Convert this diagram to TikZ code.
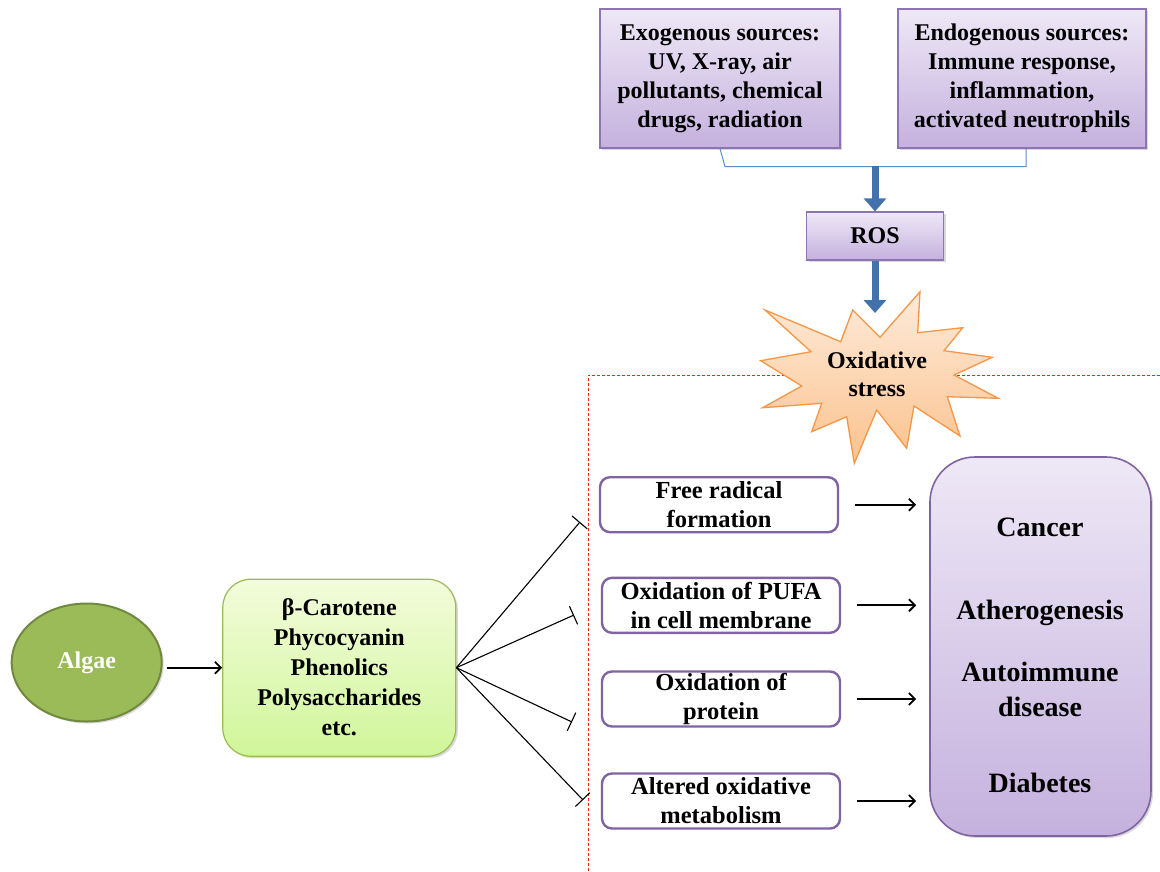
\documentclass[tikz,border=0pt]{standalone}
\usepackage{fontspec}
\setmainfont{Liberation Serif}
\usetikzlibrary{arrows.meta,shapes.geometric,positioning,calc,shadows}

\definecolor{liltop}{HTML}{EEE8F6}
\definecolor{lilbot}{HTML}{C5B1DE}
\definecolor{lilline}{HTML}{8E74B2}
\definecolor{lildark}{HTML}{8064A2}
\definecolor{leaftop}{HTML}{F3FCDB}
\definecolor{leafbot}{HTML}{D0F69A}
\definecolor{leafline}{HTML}{9BBB59}
\definecolor{algfill}{HTML}{9BBB59}
\definecolor{algline}{HTML}{71893F}
\definecolor{rosblue}{HTML}{4371AC}
\definecolor{bracketblue}{HTML}{5B8BC9}
\definecolor{bursttop}{HTML}{FEEBDA}
\definecolor{burstbot}{HTML}{FBC28D}
\definecolor{burstline}{HTML}{F79646}
\definecolor{dotred}{HTML}{FF2020}

\tikzset{
  softshadow/.style={drop shadow={opacity=0.3,shadow xshift=2pt,shadow yshift=-2pt}},
  srcbox/.style={draw=lilline, line width=1.2pt, top color=liltop, bottom color=lilbot,
    softshadow, inner sep=0pt, minimum height=139pt, align=center,
    font=\fontsize{24}{29}\selectfont\bfseries},
  effbox/.style={draw=lildark, line width=2.4pt, fill=white, rounded corners=10pt,
    minimum width=238pt, minimum height=55pt, inner sep=0pt, align=center,
    font=\fontsize{24.5}{29}\selectfont\bfseries},
  distext/.style={align=center, font=\fontsize{28}{35}\selectfont\bfseries},
  fatarrow/.style={rosblue, line width=7pt, -{Triangle[width=22pt,length=13pt]}},
  thinarrow/.style={line width=1.8pt, -{Straight Barb[length=6pt,width=12pt]}},
  inhibit/.style={line width=1.1pt, -{Bar[width=20pt,line width=1.1pt]}},
  redline/.style={dotred, line width=1pt, dash pattern=on 3pt off 2pt}
}

\begin{document}
\begin{tikzpicture}[x=1pt, y=-1pt]
\useasboundingbox (0,0) rectangle (1160,871);

% sources and ROS
\node[srcbox, minimum width=240pt] (exo) at (720,78.5)
  {Exogenous sources:\\UV, X-ray, air\\pollutants, chemical\\drugs, radiation};
\node[srcbox, minimum width=248pt] (endo) at (1022,78.5)
  {Endogenous sources:\\Immune response,\\inflammation,\\activated neutrophils};
\node[srcbox, minimum width=137pt, minimum height=48pt] (ros) at (875,236) {ROS};

\coordinate (join) at (875,166);
\draw[bracketblue, line width=1pt] (exo.south) -- ++(5,18) -| ([xshift=4pt]endo.south);
\draw[fatarrow] (join) -- (ros.north);

% region of oxidative damage
\draw[redline] (588,871) -- (588,375) -- (1160,375);

% burst
\draw[draw=burstline, line width=1.3pt, top color=bursttop, bottom color=burstbot, line join=miter]
  (920,291.7) -- (917.7,332.7) -- (962.7,327.7) -- (944,350.7) -- (992.3,357.3)
  -- (954,375) -- (998.3,398.3) -- (947.3,396.7) -- (960,436) -- (914,406)
  -- (906.7,448.3) -- (876.7,410) -- (854.3,463.3) -- (846.7,416.7) -- (811.7,431.7)
  -- (821.7,403.3) -- (762.7,407.7) -- (801.7,386) -- (760.7,360.7) -- (811,351.7)
  -- (765,310) -- (840.7,341.7) -- (852.7,310) -- (880,337.3) -- cycle;
\node[align=center, font=\fontsize{24}{28}\selectfont\bfseries] (stress) at (877,374) {Oxidative\\stress};
\coordinate (burst) at (875,313);
\draw[fatarrow] (ros.south) -- (burst);

% algae and compounds
\node[ellipse, draw=algline, line width=2pt, fill=algfill, softshadow, minimum width=150pt,
  minimum height=118pt, text=white, font=\fontsize{24}{28}\selectfont\bfseries] (algae) at (86.7,662.5) {Algae};
\node[draw=leafline, line width=1.2pt, top color=leaftop, bottom color=leafbot, softshadow,
  rounded corners=28pt, minimum width=233pt, minimum height=177pt, inner sep=0pt, align=center,
  font=\fontsize{24}{30}\selectfont\bfseries] (green) at (339.3,667.7)
  {β-Carotene\\Phycocyanin\\Phenolics\\Polysaccharides\\etc.};
\draw[thinarrow, shorten <=4pt] (green.west -| algae.east) -- (green.west);

% diseases
\node[draw=lildark, line width=1.6pt, top color=liltop, bottom color=lilbot, softshadow,
  rounded corners=45pt, minimum width=221pt, minimum height=379pt] (dis) at (1040.5,646.5) {};
\node[distext] (cancer) at (1040,527) {Cancer};
\node[distext] (athero) at (1040,613) {Atherogenesis};
\node[distext] (auto) at (1040,689) {Autoimmune\\disease};
\node[distext] (diab) at (1040,783) {Diabetes};

% damage boxes
\foreach \n/\x/\y/\t in {1/719/504.7/{Free radical\\formation},
    2/721/605.3/{Oxidation of PUFA\\in cell membrane},
    3/721/699/{Oxidation of\\protein},
    4/721/801/{Altered oxidative\\metabolism}} {
  \node[effbox] (eff\n) at (\x,\y) {\t};
  \draw[thinarrow, shorten <=16pt, shorten >=13pt] (eff\n.east) -- (eff\n.east -| dis.west);
}

% inhibition
\foreach \i/\x/\y in {1/580/522, 2/574/615, 3/572/722, 4/583/800} {
  \coordinate (tip\i) at (\x,\y);
  \draw[inhibit] (green.east) -- (tip\i);
}
\end{tikzpicture}
\end{document}
